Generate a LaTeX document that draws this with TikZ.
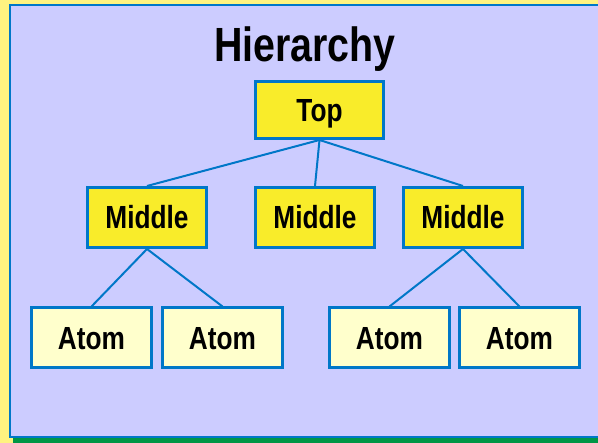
\documentclass[tikz,border=0pt]{standalone}
\usepackage{fontspec}
\setmainfont{Liberation Sans}[FakeStretch=0.82]
\usepackage{tikz}
\usetikzlibrary{arrows}

\begin{document}
\begin{tikzpicture}[x=1pt,y=-1pt]
	
	\definecolor{paleyellow}{RGB}{255,243,128}
	\definecolor{lavender}{RGB}{204,204,255}
	\definecolor{boxblue}{RGB}{0,119,200}
	\definecolor{boxyellow}{RGB}{249,236,42}
	\definecolor{atomyellow}{RGB}{255,255,204}
	\definecolor{darkgreen}{RGB}{0,150,70}
	
	\useasboundingbox (0,0) rectangle (598,443);
	\fill[paleyellow] (0,0) rectangle (598,443);
	\fill[darkgreen] (13,438) rectangle (598,443);
	\filldraw[fill=lavender, draw=boxblue, line width=2pt] (10,5) rectangle (620,437);
	
	\tikzstyle{edge} = [draw,-,boxblue,line width=2pt]
	\node[anchor=base, font=\bfseries\fontsize{48}{54}\selectfont] (title) at (305,62) {Hierarchy};
	
	\tikzset{vertex/.style = {shape = rectangle,draw = boxblue,line width=3pt,fill = boxyellow,
		font=\bfseries\fontsize{32}{36}\selectfont,text height=23pt,text depth=0pt,
		minimum width=119pt,minimum height=60pt,inner sep=0pt}}
	\node[vertex, minimum width=128pt, minimum height=57pt] (top) at (319.5,110) {Top};
	\node[vertex] (mid1) at (147,217.5) {Middle};
	\node[vertex] (mid2) at (315,217.5) {Middle};
	\node[vertex] (mid3) at (463,217.5) {Middle};
	
	\tikzset{vertex/.append style = {fill = atomyellow,minimum width=120pt}}
	\node[vertex] (atom1) at (91.5,338) {Atom};
	\node[vertex] (atom2) at (222.5,338) {Atom};
	\node[vertex] (atom3) at (389.5,338) {Atom};
	\node[vertex] (atom4) at (519.5,338) {Atom};
	
	\draw[edge] (top.south) to (mid1.north);
	\draw[edge] (top.south) to (mid2.north);
	\draw[edge] (top.south) to (mid3.north);
	\draw[edge] (mid1.south) to (atom1.north);
	\draw[edge] (mid1.south) to (atom2.north);
	\draw[edge] (mid3.south) to (atom3.north);
	\draw[edge] (mid3.south) to (atom4.north);
	\end{tikzpicture}
\end{document}
